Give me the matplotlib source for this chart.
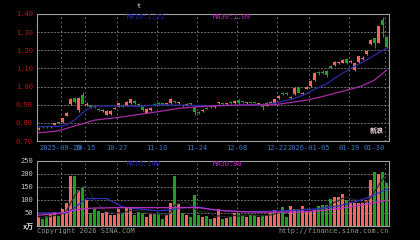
import numpy as np
import pandas as pd
import matplotlib
matplotlib.use('Agg')
import matplotlib.pyplot as plt

# daily candles, 2025-09-19 .. 2026-01-30 (88 trading days)
opens = [0.765, 0.780, 0.779, 0.776, 0.789, 0.804, 0.804, 0.840, 0.905, 0.935,
         0.870, 0.955, 0.898, 0.896, 0.894, 0.878, 0.866, 0.846, 0.848, 0.878,
         0.890, 0.900, 0.895, 0.910, 0.920, 0.903, 0.890, 0.857, 0.870, 0.905,
         0.910, 0.907, 0.903, 0.910, 0.918, 0.909, 0.898, 0.895, 0.906, 0.890,
         0.860, 0.866, 0.882, 0.892, 0.886, 0.908, 0.908, 0.905, 0.913, 0.910,
         0.925, 0.917, 0.910, 0.912, 0.912, 0.906, 0.905, 0.895, 0.912, 0.912,
         0.935, 0.962, 0.962, 0.938, 0.960, 0.995, 0.958, 0.988, 1.005, 1.036,
         1.080, 1.081, 1.088, 1.112, 1.120, 1.128, 1.132, 1.150, 1.136, 1.094,
         1.136, 1.150, 1.180, 1.232, 1.265, 1.242, 1.366, 1.273]
closes = [0.772, 0.776, 0.776, 0.778, 0.797, 0.800, 0.825, 0.855, 0.932, 0.916,
          0.935, 0.906, 0.904, 0.889, 0.885, 0.869, 0.871, 0.866, 0.867, 0.881,
          0.907, 0.890, 0.915, 0.930, 0.910, 0.899, 0.872, 0.878, 0.881, 0.900,
          0.905, 0.905, 0.906, 0.934, 0.914, 0.911, 0.892, 0.905, 0.903, 0.862,
          0.855, 0.871, 0.878, 0.886, 0.888, 0.911, 0.905, 0.906, 0.909, 0.922,
          0.907, 0.913, 0.913, 0.911, 0.911, 0.907, 0.887, 0.910, 0.915, 0.929,
          0.950, 0.958, 0.958, 0.945, 0.990, 0.966, 0.965, 1.000, 1.032, 1.074,
          1.076, 1.077, 1.062, 1.100, 1.134, 1.133, 1.148, 1.132, 1.142, 1.128,
          1.166, 1.160, 1.198, 1.257, 1.242, 1.332, 1.342, 1.216]
highs = [0.775, 0.782, 0.781, 0.782, 0.800, 0.807, 0.828, 0.858, 0.938, 0.940,
         0.940, 0.972, 0.915, 0.900, 0.898, 0.882, 0.875, 0.870, 0.872, 0.886,
         0.910, 0.904, 0.918, 0.934, 0.924, 0.907, 0.893, 0.882, 0.885, 0.909,
         0.914, 0.910, 0.910, 0.938, 0.922, 0.916, 0.902, 0.908, 0.910, 0.893,
         0.863, 0.875, 0.886, 0.896, 0.893, 0.916, 0.912, 0.910, 0.917, 0.926,
         0.930, 0.920, 0.917, 0.916, 0.915, 0.912, 0.908, 0.914, 0.920, 0.933,
         0.955, 0.968, 0.968, 0.950, 0.995, 1.000, 0.972, 1.004, 1.036, 1.080,
         1.088, 1.090, 1.092, 1.120, 1.140, 1.138, 1.152, 1.156, 1.148, 1.132,
         1.170, 1.168, 1.202, 1.262, 1.270, 1.336, 1.385, 1.280]
lows = [0.762, 0.772, 0.772, 0.772, 0.786, 0.796, 0.801, 0.836, 0.900, 0.908,
        0.862, 0.902, 0.894, 0.884, 0.880, 0.864, 0.862, 0.842, 0.844, 0.874,
        0.886, 0.886, 0.892, 0.906, 0.906, 0.895, 0.868, 0.853, 0.866, 0.895,
        0.901, 0.901, 0.900, 0.906, 0.909, 0.905, 0.888, 0.892, 0.900, 0.846,
        0.850, 0.862, 0.874, 0.882, 0.882, 0.904, 0.901, 0.901, 0.905, 0.906,
        0.903, 0.909, 0.906, 0.907, 0.907, 0.902, 0.872, 0.892, 0.908, 0.908,
        0.932, 0.953, 0.952, 0.934, 0.956, 0.962, 0.954, 0.984, 1.000, 1.030,
        1.066, 1.068, 1.055, 1.095, 1.115, 1.122, 1.128, 1.126, 1.130, 1.085,
        1.130, 1.146, 1.176, 1.228, 1.210, 1.238, 1.275, 1.210]
# volume, in 10k shares
volumes = [35, 28, 40, 45, 52, 40, 63, 88, 191, 191,
           137, 150, 99, 50, 63, 58, 50, 53, 42, 42,
           65, 50, 70, 72, 42, 55, 50, 35, 50, 48,
           48, 25, 42, 88, 191, 85, 50, 42, 35, 118,
           42, 35, 40, 27, 30, 63, 25, 30, 35, 50,
           48, 42, 35, 42, 42, 35, 42, 42, 50, 60,
           55, 72, 35, 75, 65, 63, 75, 55, 55, 65,
           78, 80, 80, 103, 110, 110, 122, 100, 90, 88,
           88, 88, 100, 175, 208, 200, 208, 165]

# moving averages (day index, value)
ma10_day = [0, 5, 7, 9, 11, 13, 15, 22, 25, 30, 35, 42, 50, 56, 59, 64, 67, 69, 72, 74, 78, 82, 87]
ma10_val = [0.779, 0.780, 0.788, 0.816, 0.855, 0.886, 0.893, 0.893, 0.890, 0.900, 0.898, 0.895,
            0.897, 0.900, 0.908, 0.935, 0.960, 0.985, 1.015, 1.046, 1.100, 1.147, 1.211]
ma30_day = [0, 5, 9, 11, 14, 20, 25, 30, 35, 40, 45, 50, 55, 59, 63, 67, 71, 74, 78, 81, 84, 87]
ma30_val = [0.745, 0.756, 0.783, 0.795, 0.815, 0.830, 0.846, 0.862, 0.880, 0.889, 0.895, 0.898,
            0.899, 0.900, 0.912, 0.925, 0.945, 0.963, 0.985, 1.005, 1.036, 1.090]
vma10_day = [0, 7, 9, 12, 17, 21, 25, 30, 33, 36, 40, 43, 47, 52, 60, 68, 72, 75, 79, 83, 87]
vma10_val = [50, 50, 70, 105, 105, 73, 65, 58, 62, 70, 73, 63, 57, 55, 57, 63, 70, 76, 92, 112, 140]
vma30_day = [0, 5, 10, 13, 20, 33, 40, 45, 50, 55, 65, 70, 74, 78, 83, 87]
vma30_val = [41, 48, 63, 68, 70, 70, 70, 60, 55, 53, 53, 58, 65, 73, 86, 99]

tick_day = [6, 12, 20, 30, 40, 50, 60, 68, 78, 87]
tick_lbl = ['2025-09-29', '10-15', '10-27', '11-10', '11-24', '12-08',
            '12-22', '2026-01-05', '01-19', '01-30']
price_ticks = [0.70, 0.80, 0.90, 1.00, 1.10, 1.20, 1.30, 1.40]
vol_ticks = [50, 100, 150, 200, 250]

RED = '#f4655a'
GREEN = '#1fa01f'
BLUE = '#2a2aa8'
PURPLE = '#a82aa8'
FRAME = '#a0a0a0'
GRID = '#7a7a7a'
MONO = 'DejaVu Sans Mono'

o = np.array(opens)
c = np.array(closes)
x = np.arange(len(c))
cols = np.where(c >= o, RED, GREEN)

fig = plt.figure(figsize=(4.2, 2.4), dpi=100, facecolor='black')
ax1 = fig.add_axes([37/420, 1 - 141/240, 352/420, 127/240])
ax2 = fig.add_axes([37/420, 1 - 226/240, 352/420, 65.5/240])

grid_x = [t - 0.375 for t in tick_day]
for ax in (ax1, ax2):
    ax.set_facecolor('black')
    for s in ax.spines.values():
        s.set_color(FRAME)
        s.set_linewidth(0.8)
    ax.set_xlim(-0.375, 87.625)
    ax.set_xticks(grid_x)
    ax.tick_params(length=0, pad=3)
    ax.set_axisbelow(True)
    ax.grid(axis='x', color=GRID, ls=(0, (1.5, 3)), lw=0.7)
    ax.grid(axis='y', color=GRID, ls=(0, (2.5, 1.5)), lw=0.6)

# price panel
ax1.vlines(x, lows, highs, colors=cols, lw=0.8, zorder=2)
ax1.bar(x, np.maximum(np.abs(c - o), 0.005), bottom=np.minimum(o, c),
        width=0.75, color=cols, linewidth=0, zorder=3)
ax1.plot(ma10_day, ma10_val, color=BLUE, lw=0.9, zorder=4)
ax1.plot(ma30_day, ma30_val, color=PURPLE, lw=0.9, zorder=4)
ax1.set_ylim(0.70, 1.40)
ax1.set_yticks(price_ticks)
ax1.set_yticklabels([f'{v:.2f}' for v in price_ticks], color='#c01414',
                    fontsize=5, family=MONO)
ax1.set_xticklabels(tick_lbl, color='#3a78c8', fontsize=5, family=MONO)
ax1.get_xticklabels()[-1].set_ha('right')

# volume panel
ax2.bar(x, volumes, width=0.75, color=cols, linewidth=0, zorder=2)
vma5 = pd.Series(volumes).rolling(5, min_periods=1).mean()
ax2.plot(x, vma5, color='#262626', lw=0.8, zorder=3)
ax2.plot(vma10_day, vma10_val, color='#3030c0', lw=0.9, zorder=4)
ax2.plot(vma30_day, vma30_val, color='#c030c0', lw=0.9, zorder=4)
ax2.set_ylim(0, 250)
ax2.set_yticks(vol_ticks)
ax2.set_yticklabels([str(v) for v in vol_ticks], color='#c8c8c8',
                    fontsize=5, family=MONO)
ax2.set_xticklabels([])

# labels
fig.text(127/420, 1 - 17/240, 'MA10:1.21', color='#2020c0', fontsize=5, family=MONO, va='center')
fig.text(213/420, 1 - 17/240, 'MA30:1.09', color='#c020c0', fontsize=5, family=MONO, va='center')
fig.text(127/420, 1 - 164/240, 'MA10:140', color='#2020c0', fontsize=5, family=MONO, va='center')
fig.text(213/420, 1 - 164/240, 'MA30:99', color='#c020c0', fontsize=5, family=MONO, va='center')
fig.text(137/420, 1 - 6/240, 'ŧ', color='#c0c0c0', fontsize=5, family=MONO, va='center')
fig.text(34/420, 1 - 227/240, 'x万', color='#e0e0e0', fontsize=5, ha='right', va='center',
         family=['DejaVu Sans Mono', 'Noto Sans CJK SC'], weight='bold')
fig.text(37/420, 1 - 231/240, 'Copyright 2026 SINA.COM', color='#909090', fontsize=5,
         family=MONO, va='center')
fig.text(389/420, 1 - 231/240, 'http://finance.sina.com.cn', color='#909090', fontsize=5,
         family=MONO, va='center', ha='right')
fig.text(377/420, 1 - 131/240, '新浪', color='#ecd4dc', fontsize=5, ha='center', va='center',
         family=['Noto Sans CJK SC'], weight='bold')

fig.savefig('out.png', dpi=100, facecolor='black')
